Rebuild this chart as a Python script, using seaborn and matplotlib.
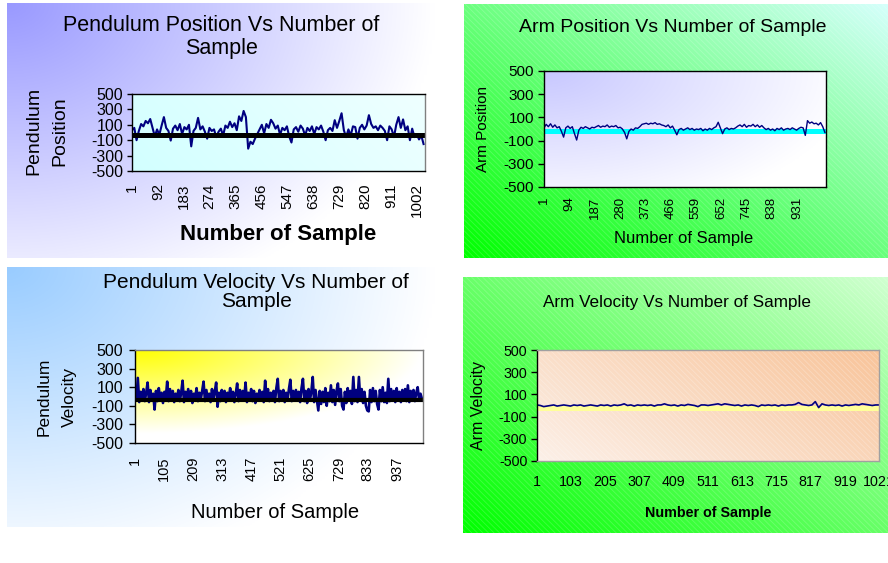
import numpy as np
import pandas as pd
import matplotlib
matplotlib.use("Agg")
import matplotlib.pyplot as plt
import seaborn as sns
from matplotlib.patches import Rectangle
from matplotlib import font_manager

# ---------------------------------------------------------------- data
Y_TICKS = [500, 300, 100, -100, -300, -500]

# pendulum position, one reading every 8 samples
pend_pos_step = 8
pendulum_position = [
    30, 60, -100, 20, 110, 80, 150, 120, 175, 60,
    -50, 40, -30, 90, 200, 60, 20, -105, 50, 90,
    30, 110, -20, 70, 40, 100, -180, 20, 60, 190,
    40, 80, 10, -80, 60, 20, 40, -60, 10, 50,
    -40, 90, 60, 140, 70, 120, 30, 210, 150, 280,
    200, -210, -120, -150, -80, -20, 40, 100, -10, 110,
    60, 165, 120, 50, 90, -30, 60, 30, 80, -50,
    -130, 40, 70, 10, 90, 50, -40, 60, 20, 80,
    -20, 70, 40, 90, 10, -100, 30, 60, 20, 160,
    60, 150, 250, 30, -60, 40, -40, 80, 70, -80,
    60, 100, 40, 90, 225, 110, 60, 80, 30, 90,
    60, 20, -100, 80, 40, -60, 100, 200, 60, 170,
    30, 80, -100, 50, -60, -20, -90, -40, -150,
]
pend_pos_level = -30
pend_pos_ticks = [1, 92, 183, 274, 365, 456, 547, 638, 729, 820, 911, 1002]

# arm position, one reading every 8 samples
arm_pos_step = 8
arm_position = [
    10, 40, 20, 45, 15, 35, 10, 20, -20, -70,
    10, 25, 5, 20, -40, -95, -10, 15, 5, 20,
    10, 0, 15, 10, 20, 30, 15, 25, 20, 35,
    15, 25, 20, 30, 10, 15, 0, -30, -85, -20,
    0, -10, 10, 5, 20, 40, 45, 50, 40, 50,
    45, 55, 40, 45, 35, 30, 20, 35, 10, 25,
    -10, -50, -5, 5, -10, 0, 10, -5, 5, -10,
    0, -5, 5, -15, 0, -10, 5, -5, 10, 20,
    58, 10, -40, 0, 10, -5, 5, 0, 10, 25,
    35, 20, 40, 15, 30, 25, 40, 20, 35, 15,
    30, 10, -5, 5, -10, 0, -15, 5, -5, 10,
    -10, 0, 5, -5, 10, 0, -10, 5, 15, 10,
    -55, 72, 50, 60, 45, 50, 35, 55, 20, -30,
]
arm_pos_level = -20
arm_pos_ticks = [1, 94, 187, 280, 373, 466, 559, 652, 745, 838, 931]

# pendulum velocity, one reading every 5 samples
pend_vel_step = 5
pendulum_velocity = [
    20, -40, 200, -60, 50, -30, 80, -50, 40, 150,
    -60, 70, -40, 30, -140, 60, -50, 90, -30, 40,
    -70, 50, -20, 160, -50, 80, -40, 60, -60, 30,
    -30, 70, -50, 40, 170, -60, 50, -30, 80, -40,
    60, -70, 30, -20, 90, -50, 40, -30, 60, 160,
    -50, 70, -40, 30, -60, 80, -30, 50, 150, -110,
    40, -50, 70, -30, 60, -60, 40, -20, 90, -40,
    50, -60, 30, 140, -50, 70, -40, 60, -30, 150,
    -60, 40, -30, 80, -50, 60, -70, 30, -20, 70,
    -40, 50, -60, 170, -30, 80, -50, 40, -40, 60,
    -60, 90, 190, -50, 60, -30, 70, -60, 40, -40,
    80, 180, -50, 60, -40, 70, -30, 50, -60, 90,
    190, -50, 60, -70, 80, -40, 50, 210, -60, 70,
    -40, -150, 60, -80, 50, -60, 90, -100, 40, -50,
    120, -60, 70, -90, 60, 140, -50, 80, -100, -140,
    50, -70, 90, -40, 60, -80, 210, -50, 70, -60,
    210, -40, 80, -70, 50, -100, -150, -160, 70, -60,
    90, -50, 60, -80, -140, 70, -50, 100, -60, 40,
    -70, 190, -50, 80, -40, 60, -60, 90, -30, 50,
    -60, 70, -40, 80, -50, 120, -60, 60, -30, 70,
    -50, 40, 100, -40, 30, -20,
]
pend_vel_level = -35
pend_vel_ticks = [1, 105, 209, 313, 417, 521, 625, 729, 833, 937]

# arm velocity, one reading every 10 samples
arm_vel_step = 10
arm_velocity = [
    5, 0, -10, -5, 0, 5, -5, 0, 5, 0,
    -5, 5, 0, 5, -5, 0, 5, 0, -5, 5,
    0, 5, -5, 5, 0, 5, 15, 0, 5, -5,
    5, 0, 5, 0, 5, -5, 5, 5, 15, 5,
    0, 5, -5, 5, 0, 10, 5, 0, -10, 5,
    5, 0, 5, 10, 15, 5, 15, 10, 5, 0,
    5, -5, 5, 0, 5, 0, -10, 5, 0, 5,
    0, 5, -5, 5, 0, 5, 5, 10, 26, 10,
    5, 0, 5, 35, -19, 15, 5, 0, 5, 0,
    5, -5, 5, 0, 5, 10, 5, 15, 10, 5,
    0, 5, 5,
]
arm_vel_level = -25
arm_vel_ticks = [1, 103, 205, 307, 409, 511, 613, 715, 817, 919, 1021]

TITLES = {
    "pp": "Pendulum Position Vs Number of\nSample",
    "ap": "Arm Position Vs Number of Sample",
    "pv": "Pendulum Velocity Vs Number of\nSample",
    "av": "Arm Velocity Vs Number of Sample",
}

# ---------------------------------------------------------------- style
plt.rcParams["font.family"] = ["Liberation Sans", "DejaVu Sans"]
plt.rcParams["hatch.linewidth"] = 0.6
NAVY = "#000080"

_names = {f.name for f in font_manager.fontManager.ttflist}
HAS_NARROW = "Liberation Sans Narrow" in _names
NARROW = ["Liberation Sans Narrow", "Liberation Sans"] if HAS_NARROW else ["Liberation Sans"]
NSCALE = 1.0 if HAS_NARROW else 0.82

W, H = 888, 563
fig = plt.figure(figsize=(W / 100, H / 100), dpi=100)
fig.patch.set_facecolor("white")


def rect(x0, y0, x1, y1):
    return [x0 / W, 1 - y1 / H, (x1 - x0) / W, (y1 - y0) / H]


def rgb(h):
    h = h.lstrip("#")
    return np.array([int(h[i:i + 2], 16) / 255 for i in (0, 2, 4)])


def corner_fade(c0, c1, sx, sy, n=160):
    u, v = np.meshgrid(np.linspace(0, 1, n), np.linspace(0, 1, n))
    t = np.clip(np.sqrt((u / sx) ** 2 + (v / sy) ** 2), 0, 1)[..., None]
    return rgb(c0) * (1 - t) + rgb(c1) * t


def diagonal_fade(c_bl, c_tr, wx=0.5, n=160):
    u, v = np.meshgrid(np.linspace(0, 1, n), np.linspace(0, 1, n))
    t = np.clip(wx * u + (1 - wx) * (1 - v), 0, 1)[..., None]
    return rgb(c_bl) * (1 - t) + rgb(c_tr) * t


def panel(box, img, hatch=False):
    bg = fig.add_axes(rect(*box), zorder=0)
    bg.imshow(img, extent=(0, 1, 0, 1), aspect="auto", origin="upper",
              interpolation="bilinear")
    if hatch:
        bg.add_patch(Rectangle((0, 0), 1, 1, facecolor="none",
                               edgecolor=(1, 1, 1, 0.18), lw=0,
                               hatch="\\\\\\\\\\\\"))
    bg.set_xlim(0, 1)
    bg.set_ylim(0, 1)
    bg.axis("off")
    return bg


def plot_area(box, img, xmax, hatch=False):
    ax = fig.add_axes(rect(*box), zorder=2)
    ax.imshow(img, extent=(1, xmax, -500, 500), aspect="auto",
              origin="upper", interpolation="bilinear", zorder=0)
    if hatch:
        ax.add_patch(Rectangle((1, -500), xmax - 1, 1000, facecolor="none",
                               edgecolor=(1, 1, 1, 0.25), lw=0,
                               hatch="\\\\\\\\\\\\", zorder=0.5))
    ax.set_xlim(1, xmax)
    ax.set_ylim(-500, 500)
    return ax


def px_to_axes(ax_box, px, py):
    x0, y0, x1, y1 = ax_box
    return (px - x0) / (x1 - x0), (y1 - py) / (y1 - y0)


def draw_series(ax, step, values, level, band_color, band_lw, line_lw, band_on_top):
    df = pd.DataFrame({"sample": np.arange(len(values)) * step + 1,
                       "value": values})
    sns.lineplot(data=df, x="sample", y="value", ax=ax, color=NAVY,
                 lw=line_lw, estimator=None, zorder=3)
    ax.axhline(level, color=band_color, lw=band_lw,
               zorder=4 if band_on_top else 2.5)


def frame(ax, spine_cols, ytick_len, ypad):
    for side, col in zip(["left", "bottom", "top", "right"], spine_cols):
        ax.spines[side].set_color(col)
        ax.spines[side].set_linewidth(1.0)
        ax.spines[side].set_zorder(5)
    ax.tick_params(axis="y", direction="out", length=ytick_len, width=1,
                   color="black", pad=ypad)
    ax.tick_params(axis="x", length=0)
    ax.set_yticks(Y_TICKS)
    ax.set_yticklabels([str(v) for v in Y_TICKS])


# ------------------------------------------------ pendulum position (top left)
panel((7, 3, 435, 258), corner_fade("#9999ff", "#ffffff", 1.0, 1.25))
box = (132, 94, 425, 171)
ax = plot_area(box, diagonal_fade("#d2ffff", "#efffff", wx=0.8), 1030)
draw_series(ax, pend_pos_step, pendulum_position, pend_pos_level,
            "black", 3.6, 1.5, True)
frame(ax, ["black", "black", "black", "#808080"], 3.5, 3)
ax.set_xticks(pend_pos_ticks)
ax.set_xticklabels([str(t) for t in pend_pos_ticks], rotation=90, fontsize=11)
ax.tick_params(axis="x", pad=9)
for lab in ax.get_yticklabels():
    lab.set_fontsize(11.5)
ax.set_xlabel("Number of Sample", fontsize=16, fontweight="bold", va="center")
ax.xaxis.set_label_coords(*px_to_axes(box, 278, 235))
ax.set_ylabel("Pendulum\nPosition", fontsize=14, va="center", linespacing=1.75)
ax.yaxis.set_label_coords(*px_to_axes(box, 47, 131))
ax.set_title(TITLES["pp"], fontsize=15.5, va="center", linespacing=1.1, pad=0,
             x=px_to_axes(box, 221, 0)[0], y=px_to_axes(box, 0, 37)[1])

# ------------------------------------------------ arm position (top right)
panel((464, 4, 900, 258), diagonal_fade("#00ff00", "#d8ffff", wx=0.5), hatch=True)
box = (544, 71, 826, 187)
ax = plot_area(box, corner_fade("#c8c8ff", "#ffffff", 1.1, 1.3), 1037)
draw_series(ax, arm_pos_step, arm_position, arm_pos_level,
            "#00ffff", 3.6, 1.0, False)
frame(ax, ["black", "black", "black", "black"], 4, 3)
ax.set_xticks(arm_pos_ticks)
ax.set_xticklabels([str(t) for t in arm_pos_ticks], rotation=90, fontsize=9.5)
ax.tick_params(axis="x", pad=7)
for lab in ax.get_yticklabels():
    lab.set_fontsize(11)
ax.set_xlabel("Number of Sample", fontsize=12, va="center")
ax.xaxis.set_label_coords(*px_to_axes(box, 684, 238))
ax.set_ylabel("Arm Position", fontsize=11, va="center")
ax.yaxis.set_label_coords(*px_to_axes(box, 483, 129))
ax.set_title(TITLES["ap"], fontsize=14, va="center", pad=0,
             x=px_to_axes(box, 673, 0)[0], y=px_to_axes(box, 0, 28)[1])

# ------------------------------------------------ pendulum velocity (bottom left)
panel((7, 267, 435, 527), corner_fade("#99ccff", "#ffffff", 1.0, 1.2))
box = (135, 350, 423, 443)
ax = plot_area(box, corner_fade("#ffff00", "#ffffff", 1.0, 0.9), 1030)
draw_series(ax, pend_vel_step, pendulum_velocity, pend_vel_level,
            "black", 3.0, 1.9, True)
frame(ax, ["black", "black", "#808080", "#808080"], 4.5, 4)
ax.set_xticks(pend_vel_ticks)
ax.set_xticklabels([str(t) for t in pend_vel_ticks], rotation=90, fontsize=10.5)
ax.tick_params(axis="x", pad=10)
for lab in ax.get_yticklabels():
    lab.set_fontsize(11.5)
ax.set_xlabel("Number of Sample", fontsize=14.5, va="center")
ax.xaxis.set_label_coords(*px_to_axes(box, 275, 513))
ax.set_ylabel("Pendulum\nVelocity", fontsize=12.5, va="center", linespacing=1.9)
ax.yaxis.set_label_coords(*px_to_axes(box, 57, 397))
ax.set_title(TITLES["pv"], fontsize=15, va="center", linespacing=1.0, pad=0,
             x=px_to_axes(box, 256, 0)[0], y=px_to_axes(box, 0, 292)[1])

# ------------------------------------------------ arm velocity (bottom right)
panel((463, 277, 900, 533), diagonal_fade("#00ff00", "#d4ffd4", wx=0.5), hatch=True)
box = (537, 350, 879, 461)
ax = plot_area(box, diagonal_fade("#fcf0e8", "#f8c49a", wx=0.6), 1021, hatch=True)
draw_series(ax, arm_vel_step, arm_velocity, arm_vel_level,
            "#ffff99", 3.6, 1.2, False)
frame(ax, ["black", "#a0a0a0", "#a0a0a0", "#a0a0a0"], 4.5, 2.5)
ax.set_xticks(arm_vel_ticks)
ax.set_xticklabels([str(t) for t in arm_vel_ticks], fontsize=12.5 * NSCALE,
                   family=NARROW)
ax.tick_params(axis="x", pad=10)
for lab in ax.get_yticklabels():
    lab.set_fontsize(12.5 * NSCALE)
    lab.set_family(NARROW)
ax.set_xlabel("Number of Sample", fontsize=12.5 * NSCALE, fontweight="bold",
              family=NARROW, va="center")
ax.xaxis.set_label_coords(*px_to_axes(box, 708, 513))
ax.set_ylabel("Arm Velocity", fontsize=11.5, va="center")
ax.yaxis.set_label_coords(*px_to_axes(box, 479, 406))
ax.set_title(TITLES["av"], fontsize=15 * NSCALE, va="center", family=NARROW,
             pad=0, x=px_to_axes(box, 677, 0)[0], y=px_to_axes(box, 0, 302)[1])

fig.savefig("out.png", dpi=100, facecolor="white")
